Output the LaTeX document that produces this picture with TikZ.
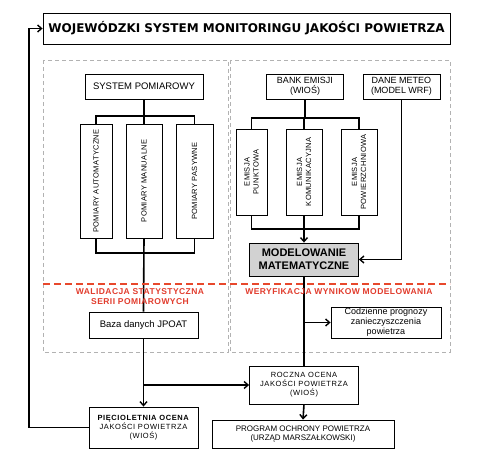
\documentclass[tikz,border=0pt]{standalone}
\usepackage{fontspec}
\setmainfont{Liberation Sans}
\newfontfamily\titlefont{DejaVu Sans}
\usetikzlibrary{arrows.meta}
\definecolor{redline}{RGB}{232,72,44}
\definecolor{redtext}{RGB}{225,60,45}
\definecolor{modelgray}{RGB}{210,210,210}
\tikzset{
  box/.style={draw=black, line width=0.8pt, fill=white, inner sep=1pt, align=center},
  vbox/.style={box},
  conn/.style={line width=1.6pt},
  arr/.style={conn, -{Straight Barb[length=4pt,width=7pt,line width=1.4pt]}},
  region/.style={draw=gray!60, line width=0.9pt, dash pattern=on 4pt off 3pt},
  redlab/.style={text=redtext, font=\bfseries\fontsize{8.5}{10}\selectfont\addfontfeature{LetterSpace=5}, align=center},
  small/.style={font=\fontsize{7.5}{9}\selectfont\addfontfeature{LetterSpace=8}},
  rsmall/.style={rotate=90, align=center, font=\fontsize{7.5}{9}\selectfont\addfontfeature{LetterSpace=4}}
}
\begin{document}
\begin{tikzpicture}[x=1pt,y=-1pt]
\useasboundingbox (0,0) rectangle (483,462);
% regions
\draw[region] (43,60) rectangle (228,352);
\draw[region] (230,60) rectangle (450,352);
% title
\node[box, minimum width=407pt, minimum height=31pt, font=\titlefont\bfseries\fontsize{12}{14}\selectfont] (title) at (246.5,28.5) {WOJEWÓDZKI SYSTEM MONITORINGU JAKOŚCI POWIETRZA};
% left column
\node[box, minimum width=118pt, minimum height=25pt, font=\fontsize{9.5}{11}\selectfont] (sp) at (144,86.5) {SYSTEM POMIAROWY};
\node[vbox, minimum width=32pt, minimum height=114pt] (pa) at (96,181) {};
\node[vbox, minimum width=36pt, minimum height=114pt] (pm) at (144,181) {};
\node[vbox, minimum width=37pt, minimum height=114pt] (pp) at (194.5,181) {};
\node[rsmall] (pat) at (pa) {POMIARY AUTOMATYCZNE};
\node[rsmall] (pmt) at (pm) {POMIARY MANUALNE};
\node[rsmall] (ppt) at (pp) {POMIARY PASYWNE};
\coordinate (j1) at (144,116);
\coordinate (j2) at (144,253);
\draw[conn] (sp.south) -- (pm.north);
\draw[conn] (pa.north) -- (pa.north |- j1) -- (pp.north |- j1) -- (pp.north);
\draw[conn] (pa.south) -- (pa.south |- j2) -- (pp.south |- j2) -- (pp.south);
% right column
\node[box, minimum width=77pt, minimum height=25pt, font=\fontsize{9}{10.5}\selectfont] (bank) at (305,86.5) {BANK EMISJI\\(WIOŚ)};
\node[box, minimum width=77pt, minimum height=25pt, font=\fontsize{9}{10.5}\selectfont] (meteo) at (401.5,86.5) {DANE METEO\\(MODEL WRF)};
\node[vbox, minimum width=31pt, minimum height=86pt] (ep) at (251.5,172) {};
\node[vbox, minimum width=36pt, minimum height=86pt] (ek) at (304,172) {};
\node[vbox, minimum width=36pt, minimum height=86pt] (ew) at (359,172) {};
\node[rsmall] (ept) at (ep) {EMISJA\\PUNKTOWA};
\node[rsmall] (ekt) at (ek) {EMISJA\\KOMUNIKACYJNA};
\node[rsmall] (ewt) at (ew) {EMISJA\\POWIERZCHNIOWA};
\node[box, fill=modelgray, minimum width=109pt, minimum height=33pt, font=\bfseries\fontsize{11}{13}\selectfont] (model) at (304,259.5) {MODELOWANIE\\MATEMATYCZNE};
\coordinate (j3) at (305,118);
\coordinate (j4) at (304,229);
\draw[conn] (bank.south) -- (j3);
\draw[conn] (ep.north) -- (ep.north |- j3) -- (ew.north |- j3) -- (ew.north);
\draw[conn] (ek.north) -- (ek.north |- j3);
\draw[conn] (ep.south) -- (ep.south |- j4) -- (ew.south |- j4) -- (ew.south);
\draw[arr] (ek.south) -- (model.north);
\draw[arr] (meteo.south) |- (model.east);
% red separator
\coordinate (r1) at (43,284);
\coordinate (r2) at (450,284);
% lower boxes
\node[box, minimum width=109pt, minimum height=26pt, font=\fontsize{9.5}{11}\selectfont] (baza) at (143.5,325) {Baza danych JPOAT};
\node[box, minimum width=110pt, minimum height=31pt, font=\fontsize{9}{10}\selectfont] (codz) at (386,322.5) {Codzienne prognozy\\zanieczyszczenia\\powietrza};
\node[box, minimum width=109pt, minimum height=38pt, small] (roczna) at (304,385) {ROCZNA OCENA\\JAKOŚCI POWIETRZA\\(WIOŚ)};
\node[box, minimum width=182pt, minimum height=28pt, font=\fontsize{8}{9.5}\selectfont] (program) at (303,434) {PROGRAM OCHRONY POWIETRZA\\(URZĄD MARSZAŁKOWSKI)};
\node[box, minimum width=109pt, minimum height=41pt, small] (piec) at (143.5,427.5) {\textbf{PIĘCIOLETNIA OCENA}\\JAKOŚCI POWIETRZA\\(WIOŚ)};
% connectors lower
\draw[conn] (pm.south) -- (baza.north);
\draw[arr] (baza.south) -- (piec.north);
\coordinate (j5) at (144,385);
\draw[arr] (j5) -- (roczna.west);
\draw[conn] (model.south) -- (roczna.north);
\coordinate (j6) at (304,322.5);
\draw[arr] (j6) -- (codz.west);
\draw[arr] (roczna.south) -- (program.north);
\coordinate (c1) at (29,0);
\draw[arr] (piec.west) -| (c1 |- title.west) -- (title.west);
\draw[redline, line width=2.5pt, dash pattern=on 7pt off 4pt] (r1) -- (r2);
\node[redlab] (val) at (140,297) {WALIDACJA STATYSTYCZNA\\SERII POMIAROWYCH};
\node[redlab] (wer) at (339,292) {WERYFIKACJA WYNIKOW MODELOWANIA};
\end{tikzpicture}
\end{document}
